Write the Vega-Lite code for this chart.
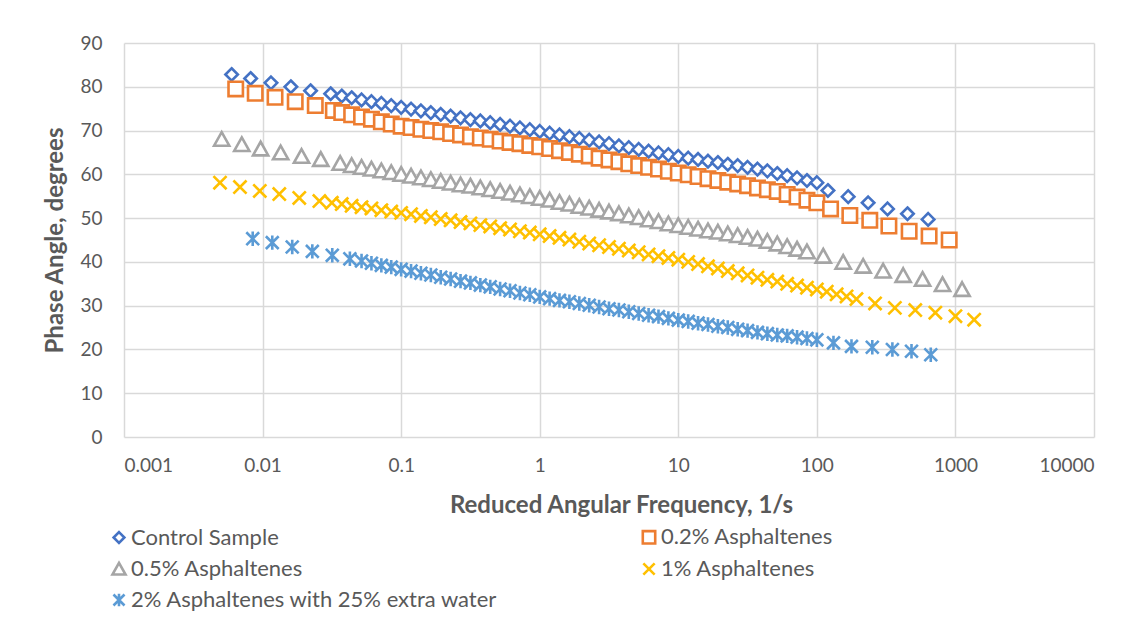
{
  "$schema": "https://vega.github.io/schema/vega-lite/v6.json",
  "width": 970,
  "height": 394,
  "autosize": {"type": "none"},
  "padding": {"left": 124, "top": 43, "right": 48, "bottom": 193},
  "background": "white",
  "config": {
    "view": {"stroke": null},
    "font": "Lato",
    "axis": {
      "domain": false,
      "ticks": false,
      "grid": true,
      "gridColor": "#D9D9D9",
      "gridWidth": 1.5,
      "labelFont": "Lato",
      "labelFontSize": 19,
      "labelColor": "#595959",
      "titleFont": "Lato",
      "titleFontSize": 24,
      "titleFontWeight": "bold",
      "titleColor": "#595959"
    },
    "legend": {
      "labelFont": "Lato",
      "labelFontSize": 22,
      "labelColor": "#595959"
    }
  },
  "data": {
    "values": [
      {"series": "Control Sample", "freq": 0.00598, "phase": 82.8},
      {"series": "Control Sample", "freq": 0.0082, "phase": 81.9},
      {"series": "Control Sample", "freq": 0.0115, "phase": 80.9},
      {"series": "Control Sample", "freq": 0.016, "phase": 80.0},
      {"series": "Control Sample", "freq": 0.0222, "phase": 79.1},
      {"series": "Control Sample", "freq": 0.031, "phase": 78.4},
      {"series": "Control Sample", "freq": 0.03728, "phase": 77.9},
      {"series": "Control Sample", "freq": 0.04394, "phase": 77.5},
      {"series": "Control Sample", "freq": 0.05179, "phase": 77.0},
      {"series": "Control Sample", "freq": 0.06105, "phase": 76.6},
      {"series": "Control Sample", "freq": 0.07197, "phase": 76.2},
      {"series": "Control Sample", "freq": 0.08483, "phase": 75.7},
      {"series": "Control Sample", "freq": 0.1, "phase": 75.3},
      {"series": "Control Sample", "freq": 0.1179, "phase": 74.9},
      {"series": "Control Sample", "freq": 0.1389, "phase": 74.5},
      {"series": "Control Sample", "freq": 0.1638, "phase": 74.1},
      {"series": "Control Sample", "freq": 0.1931, "phase": 73.7},
      {"series": "Control Sample", "freq": 0.2276, "phase": 73.3},
      {"series": "Control Sample", "freq": 0.2683, "phase": 72.9},
      {"series": "Control Sample", "freq": 0.3162, "phase": 72.5},
      {"series": "Control Sample", "freq": 0.3728, "phase": 72.2},
      {"series": "Control Sample", "freq": 0.4394, "phase": 71.8},
      {"series": "Control Sample", "freq": 0.5179, "phase": 71.4},
      {"series": "Control Sample", "freq": 0.6105, "phase": 71.0},
      {"series": "Control Sample", "freq": 0.7197, "phase": 70.6},
      {"series": "Control Sample", "freq": 0.8483, "phase": 70.2},
      {"series": "Control Sample", "freq": 1, "phase": 69.8},
      {"series": "Control Sample", "freq": 1.179, "phase": 69.4},
      {"series": "Control Sample", "freq": 1.389, "phase": 69.0},
      {"series": "Control Sample", "freq": 1.638, "phase": 68.6},
      {"series": "Control Sample", "freq": 1.931, "phase": 68.2},
      {"series": "Control Sample", "freq": 2.276, "phase": 67.8},
      {"series": "Control Sample", "freq": 2.683, "phase": 67.4},
      {"series": "Control Sample", "freq": 3.162, "phase": 67.0},
      {"series": "Control Sample", "freq": 3.728, "phase": 66.5},
      {"series": "Control Sample", "freq": 4.394, "phase": 66.1},
      {"series": "Control Sample", "freq": 5.179, "phase": 65.7},
      {"series": "Control Sample", "freq": 6.105, "phase": 65.3},
      {"series": "Control Sample", "freq": 7.197, "phase": 64.9},
      {"series": "Control Sample", "freq": 8.483, "phase": 64.5},
      {"series": "Control Sample", "freq": 10, "phase": 64.1},
      {"series": "Control Sample", "freq": 11.79, "phase": 63.7},
      {"series": "Control Sample", "freq": 13.89, "phase": 63.4},
      {"series": "Control Sample", "freq": 16.38, "phase": 63.0},
      {"series": "Control Sample", "freq": 19.31, "phase": 62.7},
      {"series": "Control Sample", "freq": 22.76, "phase": 62.3},
      {"series": "Control Sample", "freq": 26.83, "phase": 62.0},
      {"series": "Control Sample", "freq": 31.62, "phase": 61.6},
      {"series": "Control Sample", "freq": 37.28, "phase": 61.2},
      {"series": "Control Sample", "freq": 43.94, "phase": 60.8},
      {"series": "Control Sample", "freq": 51.79, "phase": 60.2},
      {"series": "Control Sample", "freq": 61.05, "phase": 59.7},
      {"series": "Control Sample", "freq": 71.97, "phase": 59.2},
      {"series": "Control Sample", "freq": 84.83, "phase": 58.6},
      {"series": "Control Sample", "freq": 100, "phase": 58.1},
      {"series": "Control Sample", "freq": 120.2, "phase": 56.3},
      {"series": "Control Sample", "freq": 168.3, "phase": 54.9},
      {"series": "Control Sample", "freq": 234.4, "phase": 53.5},
      {"series": "Control Sample", "freq": 323.6, "phase": 52.1},
      {"series": "Control Sample", "freq": 450.8, "phase": 51.0},
      {"series": "Control Sample", "freq": 635.3, "phase": 49.7},

      {"series": "0.2% Asphaltenes", "freq": 0.0064, "phase": 79.5},
      {"series": "0.2% Asphaltenes", "freq": 0.00885, "phase": 78.5},
      {"series": "0.2% Asphaltenes", "freq": 0.0123, "phase": 77.6},
      {"series": "0.2% Asphaltenes", "freq": 0.0172, "phase": 76.6},
      {"series": "0.2% Asphaltenes", "freq": 0.024, "phase": 75.7},
      {"series": "0.2% Asphaltenes", "freq": 0.0324, "phase": 74.6},
      {"series": "0.2% Asphaltenes", "freq": 0.03728, "phase": 74.1},
      {"series": "0.2% Asphaltenes", "freq": 0.04394, "phase": 73.6},
      {"series": "0.2% Asphaltenes", "freq": 0.05179, "phase": 73.1},
      {"series": "0.2% Asphaltenes", "freq": 0.06105, "phase": 72.6},
      {"series": "0.2% Asphaltenes", "freq": 0.07197, "phase": 72.0},
      {"series": "0.2% Asphaltenes", "freq": 0.08483, "phase": 71.5},
      {"series": "0.2% Asphaltenes", "freq": 0.1, "phase": 71.0},
      {"series": "0.2% Asphaltenes", "freq": 0.1179, "phase": 70.7},
      {"series": "0.2% Asphaltenes", "freq": 0.1389, "phase": 70.3},
      {"series": "0.2% Asphaltenes", "freq": 0.1638, "phase": 70.0},
      {"series": "0.2% Asphaltenes", "freq": 0.1931, "phase": 69.7},
      {"series": "0.2% Asphaltenes", "freq": 0.2276, "phase": 69.3},
      {"series": "0.2% Asphaltenes", "freq": 0.2683, "phase": 69.0},
      {"series": "0.2% Asphaltenes", "freq": 0.3162, "phase": 68.6},
      {"series": "0.2% Asphaltenes", "freq": 0.3728, "phase": 68.3},
      {"series": "0.2% Asphaltenes", "freq": 0.4394, "phase": 68.0},
      {"series": "0.2% Asphaltenes", "freq": 0.5179, "phase": 67.6},
      {"series": "0.2% Asphaltenes", "freq": 0.6105, "phase": 67.3},
      {"series": "0.2% Asphaltenes", "freq": 0.7197, "phase": 67.0},
      {"series": "0.2% Asphaltenes", "freq": 0.8483, "phase": 66.6},
      {"series": "0.2% Asphaltenes", "freq": 1, "phase": 66.3},
      {"series": "0.2% Asphaltenes", "freq": 1.179, "phase": 65.9},
      {"series": "0.2% Asphaltenes", "freq": 1.389, "phase": 65.4},
      {"series": "0.2% Asphaltenes", "freq": 1.638, "phase": 65.0},
      {"series": "0.2% Asphaltenes", "freq": 1.931, "phase": 64.6},
      {"series": "0.2% Asphaltenes", "freq": 2.276, "phase": 64.2},
      {"series": "0.2% Asphaltenes", "freq": 2.683, "phase": 63.7},
      {"series": "0.2% Asphaltenes", "freq": 3.162, "phase": 63.3},
      {"series": "0.2% Asphaltenes", "freq": 3.728, "phase": 62.9},
      {"series": "0.2% Asphaltenes", "freq": 4.394, "phase": 62.4},
      {"series": "0.2% Asphaltenes", "freq": 5.179, "phase": 62.0},
      {"series": "0.2% Asphaltenes", "freq": 6.105, "phase": 61.6},
      {"series": "0.2% Asphaltenes", "freq": 7.197, "phase": 61.2},
      {"series": "0.2% Asphaltenes", "freq": 8.483, "phase": 60.7},
      {"series": "0.2% Asphaltenes", "freq": 10, "phase": 60.3},
      {"series": "0.2% Asphaltenes", "freq": 11.79, "phase": 59.9},
      {"series": "0.2% Asphaltenes", "freq": 13.89, "phase": 59.5},
      {"series": "0.2% Asphaltenes", "freq": 16.38, "phase": 59.0},
      {"series": "0.2% Asphaltenes", "freq": 19.31, "phase": 58.6},
      {"series": "0.2% Asphaltenes", "freq": 22.76, "phase": 58.2},
      {"series": "0.2% Asphaltenes", "freq": 26.83, "phase": 57.8},
      {"series": "0.2% Asphaltenes", "freq": 31.62, "phase": 57.4},
      {"series": "0.2% Asphaltenes", "freq": 37.28, "phase": 56.9},
      {"series": "0.2% Asphaltenes", "freq": 43.94, "phase": 56.5},
      {"series": "0.2% Asphaltenes", "freq": 51.79, "phase": 56.1},
      {"series": "0.2% Asphaltenes", "freq": 61.05, "phase": 55.4},
      {"series": "0.2% Asphaltenes", "freq": 71.97, "phase": 54.8},
      {"series": "0.2% Asphaltenes", "freq": 84.83, "phase": 54.1},
      {"series": "0.2% Asphaltenes", "freq": 100, "phase": 53.5},
      {"series": "0.2% Asphaltenes", "freq": 125.6, "phase": 52.1},
      {"series": "0.2% Asphaltenes", "freq": 173, "phase": 50.6},
      {"series": "0.2% Asphaltenes", "freq": 241, "phase": 49.5},
      {"series": "0.2% Asphaltenes", "freq": 331.1, "phase": 48.2},
      {"series": "0.2% Asphaltenes", "freq": 463.4, "phase": 47.0},
      {"series": "0.2% Asphaltenes", "freq": 645.7, "phase": 45.9},
      {"series": "0.2% Asphaltenes", "freq": 901.6, "phase": 45.0},

      {"series": "0.5% Asphaltenes", "freq": 0.00507, "phase": 68.0},
      {"series": "0.5% Asphaltenes", "freq": 0.00708, "phase": 66.8},
      {"series": "0.5% Asphaltenes", "freq": 0.00968, "phase": 65.8},
      {"series": "0.5% Asphaltenes", "freq": 0.0135, "phase": 64.9},
      {"series": "0.5% Asphaltenes", "freq": 0.0191, "phase": 64.1},
      {"series": "0.5% Asphaltenes", "freq": 0.0263, "phase": 63.4},
      {"series": "0.5% Asphaltenes", "freq": 0.0363, "phase": 62.5},
      {"series": "0.5% Asphaltenes", "freq": 0.04394, "phase": 62.0},
      {"series": "0.5% Asphaltenes", "freq": 0.05179, "phase": 61.6},
      {"series": "0.5% Asphaltenes", "freq": 0.06105, "phase": 61.2},
      {"series": "0.5% Asphaltenes", "freq": 0.07197, "phase": 60.8},
      {"series": "0.5% Asphaltenes", "freq": 0.08483, "phase": 60.4},
      {"series": "0.5% Asphaltenes", "freq": 0.1, "phase": 60.0},
      {"series": "0.5% Asphaltenes", "freq": 0.1179, "phase": 59.6},
      {"series": "0.5% Asphaltenes", "freq": 0.1389, "phase": 59.2},
      {"series": "0.5% Asphaltenes", "freq": 0.1638, "phase": 58.8},
      {"series": "0.5% Asphaltenes", "freq": 0.1931, "phase": 58.4},
      {"series": "0.5% Asphaltenes", "freq": 0.2276, "phase": 58.0},
      {"series": "0.5% Asphaltenes", "freq": 0.2683, "phase": 57.6},
      {"series": "0.5% Asphaltenes", "freq": 0.3162, "phase": 57.3},
      {"series": "0.5% Asphaltenes", "freq": 0.3728, "phase": 56.9},
      {"series": "0.5% Asphaltenes", "freq": 0.4394, "phase": 56.5},
      {"series": "0.5% Asphaltenes", "freq": 0.5179, "phase": 56.1},
      {"series": "0.5% Asphaltenes", "freq": 0.6105, "phase": 55.7},
      {"series": "0.5% Asphaltenes", "freq": 0.7197, "phase": 55.3},
      {"series": "0.5% Asphaltenes", "freq": 0.8483, "phase": 54.9},
      {"series": "0.5% Asphaltenes", "freq": 1, "phase": 54.5},
      {"series": "0.5% Asphaltenes", "freq": 1.179, "phase": 54.1},
      {"series": "0.5% Asphaltenes", "freq": 1.389, "phase": 53.6},
      {"series": "0.5% Asphaltenes", "freq": 1.638, "phase": 53.2},
      {"series": "0.5% Asphaltenes", "freq": 1.931, "phase": 52.7},
      {"series": "0.5% Asphaltenes", "freq": 2.276, "phase": 52.3},
      {"series": "0.5% Asphaltenes", "freq": 2.683, "phase": 51.8},
      {"series": "0.5% Asphaltenes", "freq": 3.162, "phase": 51.4},
      {"series": "0.5% Asphaltenes", "freq": 3.728, "phase": 51.0},
      {"series": "0.5% Asphaltenes", "freq": 4.394, "phase": 50.5},
      {"series": "0.5% Asphaltenes", "freq": 5.179, "phase": 50.1},
      {"series": "0.5% Asphaltenes", "freq": 6.105, "phase": 49.6},
      {"series": "0.5% Asphaltenes", "freq": 7.197, "phase": 49.2},
      {"series": "0.5% Asphaltenes", "freq": 8.483, "phase": 48.7},
      {"series": "0.5% Asphaltenes", "freq": 10, "phase": 48.3},
      {"series": "0.5% Asphaltenes", "freq": 11.79, "phase": 47.9},
      {"series": "0.5% Asphaltenes", "freq": 13.89, "phase": 47.5},
      {"series": "0.5% Asphaltenes", "freq": 16.38, "phase": 47.1},
      {"series": "0.5% Asphaltenes", "freq": 19.31, "phase": 46.8},
      {"series": "0.5% Asphaltenes", "freq": 22.76, "phase": 46.4},
      {"series": "0.5% Asphaltenes", "freq": 26.83, "phase": 46.0},
      {"series": "0.5% Asphaltenes", "freq": 31.62, "phase": 45.6},
      {"series": "0.5% Asphaltenes", "freq": 37.28, "phase": 45.2},
      {"series": "0.5% Asphaltenes", "freq": 43.94, "phase": 44.7},
      {"series": "0.5% Asphaltenes", "freq": 51.79, "phase": 44.1},
      {"series": "0.5% Asphaltenes", "freq": 61.05, "phase": 43.5},
      {"series": "0.5% Asphaltenes", "freq": 71.97, "phase": 42.9},
      {"series": "0.5% Asphaltenes", "freq": 84.83, "phase": 42.3},
      {"series": "0.5% Asphaltenes", "freq": 111.2, "phase": 41.3},
      {"series": "0.5% Asphaltenes", "freq": 154.9, "phase": 39.9},
      {"series": "0.5% Asphaltenes", "freq": 215.8, "phase": 39.0},
      {"series": "0.5% Asphaltenes", "freq": 300.6, "phase": 37.9},
      {"series": "0.5% Asphaltenes", "freq": 419.8, "phase": 36.9},
      {"series": "0.5% Asphaltenes", "freq": 579.4, "phase": 36.0},
      {"series": "0.5% Asphaltenes", "freq": 807.2, "phase": 34.8},
      {"series": "0.5% Asphaltenes", "freq": 1117, "phase": 33.7},

      {"series": "1% Asphaltenes", "freq": 0.00493, "phase": 58.1},
      {"series": "1% Asphaltenes", "freq": 0.00687, "phase": 57.1},
      {"series": "1% Asphaltenes", "freq": 0.00955, "phase": 56.2},
      {"series": "1% Asphaltenes", "freq": 0.0132, "phase": 55.5},
      {"series": "1% Asphaltenes", "freq": 0.0184, "phase": 54.6},
      {"series": "1% Asphaltenes", "freq": 0.0257, "phase": 53.9},
      {"series": "1% Asphaltenes", "freq": 0.03162, "phase": 53.5},
      {"series": "1% Asphaltenes", "freq": 0.03728, "phase": 53.2},
      {"series": "1% Asphaltenes", "freq": 0.04394, "phase": 52.8},
      {"series": "1% Asphaltenes", "freq": 0.05179, "phase": 52.5},
      {"series": "1% Asphaltenes", "freq": 0.06105, "phase": 52.2},
      {"series": "1% Asphaltenes", "freq": 0.07197, "phase": 51.8},
      {"series": "1% Asphaltenes", "freq": 0.08483, "phase": 51.5},
      {"series": "1% Asphaltenes", "freq": 0.1, "phase": 51.2},
      {"series": "1% Asphaltenes", "freq": 0.1179, "phase": 50.9},
      {"series": "1% Asphaltenes", "freq": 0.1389, "phase": 50.5},
      {"series": "1% Asphaltenes", "freq": 0.1638, "phase": 50.2},
      {"series": "1% Asphaltenes", "freq": 0.1931, "phase": 49.8},
      {"series": "1% Asphaltenes", "freq": 0.2276, "phase": 49.5},
      {"series": "1% Asphaltenes", "freq": 0.2683, "phase": 49.1},
      {"series": "1% Asphaltenes", "freq": 0.3162, "phase": 48.8},
      {"series": "1% Asphaltenes", "freq": 0.3728, "phase": 48.4},
      {"series": "1% Asphaltenes", "freq": 0.4394, "phase": 48.1},
      {"series": "1% Asphaltenes", "freq": 0.5179, "phase": 47.7},
      {"series": "1% Asphaltenes", "freq": 0.6105, "phase": 47.4},
      {"series": "1% Asphaltenes", "freq": 0.7197, "phase": 47.0},
      {"series": "1% Asphaltenes", "freq": 0.8483, "phase": 46.7},
      {"series": "1% Asphaltenes", "freq": 1, "phase": 46.3},
      {"series": "1% Asphaltenes", "freq": 1.179, "phase": 45.9},
      {"series": "1% Asphaltenes", "freq": 1.389, "phase": 45.5},
      {"series": "1% Asphaltenes", "freq": 1.638, "phase": 45.1},
      {"series": "1% Asphaltenes", "freq": 1.931, "phase": 44.6},
      {"series": "1% Asphaltenes", "freq": 2.276, "phase": 44.2},
      {"series": "1% Asphaltenes", "freq": 2.683, "phase": 43.8},
      {"series": "1% Asphaltenes", "freq": 3.162, "phase": 43.4},
      {"series": "1% Asphaltenes", "freq": 3.728, "phase": 43.0},
      {"series": "1% Asphaltenes", "freq": 4.394, "phase": 42.6},
      {"series": "1% Asphaltenes", "freq": 5.179, "phase": 42.2},
      {"series": "1% Asphaltenes", "freq": 6.105, "phase": 41.7},
      {"series": "1% Asphaltenes", "freq": 7.197, "phase": 41.3},
      {"series": "1% Asphaltenes", "freq": 8.483, "phase": 40.9},
      {"series": "1% Asphaltenes", "freq": 10, "phase": 40.5},
      {"series": "1% Asphaltenes", "freq": 11.79, "phase": 40.0},
      {"series": "1% Asphaltenes", "freq": 13.89, "phase": 39.5},
      {"series": "1% Asphaltenes", "freq": 16.38, "phase": 39.0},
      {"series": "1% Asphaltenes", "freq": 19.31, "phase": 38.5},
      {"series": "1% Asphaltenes", "freq": 22.76, "phase": 37.9},
      {"series": "1% Asphaltenes", "freq": 26.83, "phase": 37.4},
      {"series": "1% Asphaltenes", "freq": 31.62, "phase": 36.9},
      {"series": "1% Asphaltenes", "freq": 37.28, "phase": 36.4},
      {"series": "1% Asphaltenes", "freq": 43.94, "phase": 35.9},
      {"series": "1% Asphaltenes", "freq": 51.79, "phase": 35.5},
      {"series": "1% Asphaltenes", "freq": 61.05, "phase": 35.0},
      {"series": "1% Asphaltenes", "freq": 71.97, "phase": 34.6},
      {"series": "1% Asphaltenes", "freq": 84.83, "phase": 34.1},
      {"series": "1% Asphaltenes", "freq": 100, "phase": 33.7},
      {"series": "1% Asphaltenes", "freq": 117.9, "phase": 33.2},
      {"series": "1% Asphaltenes", "freq": 138.9, "phase": 32.6},
      {"series": "1% Asphaltenes", "freq": 163.8, "phase": 32.1},
      {"series": "1% Asphaltenes", "freq": 193.1, "phase": 31.5},
      {"series": "1% Asphaltenes", "freq": 263, "phase": 30.5},
      {"series": "1% Asphaltenes", "freq": 365.6, "phase": 29.5},
      {"series": "1% Asphaltenes", "freq": 512.9, "phase": 29.0},
      {"series": "1% Asphaltenes", "freq": 716.1, "phase": 28.4},
      {"series": "1% Asphaltenes", "freq": 1000, "phase": 27.6},
      {"series": "1% Asphaltenes", "freq": 1365, "phase": 26.8},

      {"series": "2% Asphaltenes with 25% extra water", "freq": 0.00849, "phase": 45.3},
      {"series": "2% Asphaltenes with 25% extra water", "freq": 0.01175, "phase": 44.4},
      {"series": "2% Asphaltenes with 25% extra water", "freq": 0.01637, "phase": 43.4},
      {"series": "2% Asphaltenes with 25% extra water", "freq": 0.02286, "phase": 42.4},
      {"series": "2% Asphaltenes with 25% extra water", "freq": 0.03184, "phase": 41.5},
      {"series": "2% Asphaltenes with 25% extra water", "freq": 0.04266, "phase": 40.7},
      {"series": "2% Asphaltenes with 25% extra water", "freq": 0.05179, "phase": 40.2},
      {"series": "2% Asphaltenes with 25% extra water", "freq": 0.06105, "phase": 39.7},
      {"series": "2% Asphaltenes with 25% extra water", "freq": 0.07197, "phase": 39.2},
      {"series": "2% Asphaltenes with 25% extra water", "freq": 0.08483, "phase": 38.8},
      {"series": "2% Asphaltenes with 25% extra water", "freq": 0.1, "phase": 38.3},
      {"series": "2% Asphaltenes with 25% extra water", "freq": 0.1179, "phase": 37.9},
      {"series": "2% Asphaltenes with 25% extra water", "freq": 0.1389, "phase": 37.4},
      {"series": "2% Asphaltenes with 25% extra water", "freq": 0.1638, "phase": 37.0},
      {"series": "2% Asphaltenes with 25% extra water", "freq": 0.1931, "phase": 36.5},
      {"series": "2% Asphaltenes with 25% extra water", "freq": 0.2276, "phase": 36.1},
      {"series": "2% Asphaltenes with 25% extra water", "freq": 0.2683, "phase": 35.6},
      {"series": "2% Asphaltenes with 25% extra water", "freq": 0.3162, "phase": 35.2},
      {"series": "2% Asphaltenes with 25% extra water", "freq": 0.3728, "phase": 34.7},
      {"series": "2% Asphaltenes with 25% extra water", "freq": 0.4394, "phase": 34.3},
      {"series": "2% Asphaltenes with 25% extra water", "freq": 0.5179, "phase": 33.8},
      {"series": "2% Asphaltenes with 25% extra water", "freq": 0.6105, "phase": 33.4},
      {"series": "2% Asphaltenes with 25% extra water", "freq": 0.7197, "phase": 32.9},
      {"series": "2% Asphaltenes with 25% extra water", "freq": 0.8483, "phase": 32.5},
      {"series": "2% Asphaltenes with 25% extra water", "freq": 1, "phase": 32.0},
      {"series": "2% Asphaltenes with 25% extra water", "freq": 1.179, "phase": 31.6},
      {"series": "2% Asphaltenes with 25% extra water", "freq": 1.389, "phase": 31.2},
      {"series": "2% Asphaltenes with 25% extra water", "freq": 1.638, "phase": 30.9},
      {"series": "2% Asphaltenes with 25% extra water", "freq": 1.931, "phase": 30.5},
      {"series": "2% Asphaltenes with 25% extra water", "freq": 2.276, "phase": 30.1},
      {"series": "2% Asphaltenes with 25% extra water", "freq": 2.683, "phase": 29.7},
      {"series": "2% Asphaltenes with 25% extra water", "freq": 3.162, "phase": 29.3},
      {"series": "2% Asphaltenes with 25% extra water", "freq": 3.728, "phase": 29.0},
      {"series": "2% Asphaltenes with 25% extra water", "freq": 4.394, "phase": 28.6},
      {"series": "2% Asphaltenes with 25% extra water", "freq": 5.179, "phase": 28.2},
      {"series": "2% Asphaltenes with 25% extra water", "freq": 6.105, "phase": 27.8},
      {"series": "2% Asphaltenes with 25% extra water", "freq": 7.197, "phase": 27.5},
      {"series": "2% Asphaltenes with 25% extra water", "freq": 8.483, "phase": 27.1},
      {"series": "2% Asphaltenes with 25% extra water", "freq": 10, "phase": 26.7},
      {"series": "2% Asphaltenes with 25% extra water", "freq": 11.79, "phase": 26.4},
      {"series": "2% Asphaltenes with 25% extra water", "freq": 13.89, "phase": 26.0},
      {"series": "2% Asphaltenes with 25% extra water", "freq": 16.38, "phase": 25.7},
      {"series": "2% Asphaltenes with 25% extra water", "freq": 19.31, "phase": 25.3},
      {"series": "2% Asphaltenes with 25% extra water", "freq": 22.76, "phase": 25.0},
      {"series": "2% Asphaltenes with 25% extra water", "freq": 26.83, "phase": 24.6},
      {"series": "2% Asphaltenes with 25% extra water", "freq": 31.62, "phase": 24.3},
      {"series": "2% Asphaltenes with 25% extra water", "freq": 37.28, "phase": 23.9},
      {"series": "2% Asphaltenes with 25% extra water", "freq": 43.94, "phase": 23.6},
      {"series": "2% Asphaltenes with 25% extra water", "freq": 51.79, "phase": 23.3},
      {"series": "2% Asphaltenes with 25% extra water", "freq": 61.05, "phase": 23.1},
      {"series": "2% Asphaltenes with 25% extra water", "freq": 71.97, "phase": 22.8},
      {"series": "2% Asphaltenes with 25% extra water", "freq": 84.83, "phase": 22.5},
      {"series": "2% Asphaltenes with 25% extra water", "freq": 100, "phase": 22.2},
      {"series": "2% Asphaltenes with 25% extra water", "freq": 131.8, "phase": 21.5},
      {"series": "2% Asphaltenes with 25% extra water", "freq": 177.8, "phase": 20.7},
      {"series": "2% Asphaltenes with 25% extra water", "freq": 251.2, "phase": 20.5},
      {"series": "2% Asphaltenes with 25% extra water", "freq": 350.8, "phase": 20.0},
      {"series": "2% Asphaltenes with 25% extra water", "freq": 482, "phase": 19.6},
      {"series": "2% Asphaltenes with 25% extra water", "freq": 663.7, "phase": 18.8}
    ]
  },
  "mark": {
    "type": "point",
    "filled": true,
    "fill": "white",
    "opacity": 1,
    "size": 256,
    "strokeWidth": 2.6
  },
  "encoding": {
    "x": {
      "field": "freq",
      "type": "quantitative",
      "title": "Reduced Angular Frequency, 1/s",
      "scale": {"type": "log", "domain": [0.001, 10000], "nice": false},
      "axis": {
        "values": [0.001, 0.01, 0.1, 1, 10, 100, 1000, 10000],
        "format": "~g",
        "labelPadding": 19,
        "titleX": 497,
        "titleY": 68,
        "titleBaseline": "middle"
      }
    },
    "y": {
      "field": "phase",
      "type": "quantitative",
      "title": "Phase Angle, degrees",
      "scale": {"domain": [0, 90], "nice": false},
      "axis": {
        "values": [0, 10, 20, 30, 40, 50, 60, 70, 80, 90],
        "labelPadding": 22,
        "titleX": -69,
        "titleY": 197,
        "titleBaseline": "middle"
      }
    },
    "stroke": {
      "field": "series",
      "type": "nominal",
      "title": null,
      "scale": {
        "domain": ["Control Sample", "0.2% Asphaltenes", "0.5% Asphaltenes", "1% Asphaltenes", "2% Asphaltenes with 25% extra water"],
        "range": ["#4472C4", "#ED7D31", "#A5A5A5", "#FFC000", "#5B9BD5"]
      },
      "legend": {
        "orient": "none",
        "direction": "horizontal",
        "legendX": -16,
        "legendY": 483,
        "columns": 2,
        "columnPadding": 139,
        "rowPadding": 8,
        "padding": 0,
        "labelLimit": 600,
        "labelOffset": 1,
        "symbolSize": 190,
        "symbolStrokeWidth": 2.6,
        "symbolFillColor": "white"
      }
    },
    "shape": {
      "field": "series",
      "type": "nominal",
      "title": null,
      "scale": {
        "domain": ["Control Sample", "0.2% Asphaltenes", "0.5% Asphaltenes", "1% Asphaltenes", "2% Asphaltenes with 25% extra water"],
        "range": [
          "M0,-0.78L0.78,0L0,0.78L-0.78,0Z",
          "M-0.9,-0.9L0.9,-0.9L0.9,0.9L-0.9,0.9Z",
          "M0,-0.9L0.95,0.8L-0.95,0.8Z",
          "M-0.82,-0.82L0.82,0.82M0.82,-0.82L-0.82,0.82",
          "M-0.8,-0.8L0.8,0.8M0.8,-0.8L-0.8,0.8M0,-0.9L0,0.9"
        ]
      }
    }
  }
}
